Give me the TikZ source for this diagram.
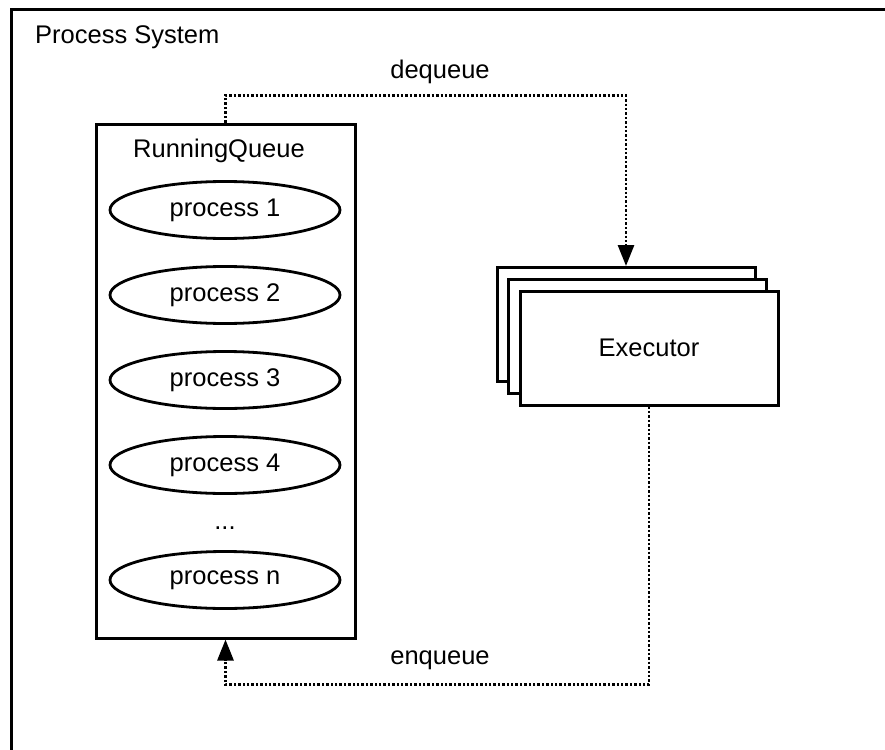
\documentclass[tikz,border=0pt]{standalone}
\usepackage{fontspec}
\setmainfont{Liberation Sans}
\usepackage{tikz}
\usetikzlibrary{shapes.geometric,arrows.meta,positioning}
\tikzset{
  sysframe/.style={draw=black, line width=3pt},
  qbox/.style={rectangle, draw=black, line width=3pt, fill=white, minimum width=259pt, minimum height=514pt, inner sep=0pt},
  pnode/.style={ellipse, draw=black, line width=2.8pt, fill=white, minimum width=230pt, minimum height=57pt, inner sep=0pt},
  ebox/.style={rectangle, draw=black, line width=3pt, fill=white, minimum width=258pt, minimum height=114pt, inner sep=0pt},
  qarrow/.style={-{Triangle[length=21pt,width=16pt]}, line width=2.8pt, dash pattern=on 2.5pt off 1.9pt},
  plain/.style={inner sep=0pt}
}

\begin{document}
\begin{tikzpicture}[x=1pt, y=-1pt, font=\fontsize{25.5}{30}\selectfont, node distance=25.2pt]
\useasboundingbox (0,0) rectangle (885,749);
\begin{scope}
\clip (0,0) rectangle (885,749);
\draw[sysframe] (11,10) rectangle (900,760);
\end{scope}
\node[plain, anchor=west] (systitle) at (35,37) {Process System};
% running queue
\node[qbox] (rq) at (225.5,381) {};
\node[plain] (rqtitle) at (219,151) {RunningQueue};
\node[pnode] (p1) at (225,210) {process 1};
\node[pnode, below=of p1] (p2) {process 2};
\node[pnode, below=of p2] (p3) {process 3};
\node[pnode, below=of p3] (p4) {process 4};
\node[plain, anchor=base] (pdots) at (225,529) {...};
\node[pnode] (pn) at (225,580) {process n};
% executors
\node[ebox] (exec3) at (626,324.5) {};
\node[ebox] (exec2) at (637.5,336.5) {};
\node[ebox] (exec) at (649,348) {Executor};
% queue flow
\draw[qarrow] (rq.north) -- ++(0,-27) -| (exec3.north);
\draw[qarrow] (exec.south) -- ++(0,278) -| (rq.south);
\node[plain] (deq) at (440,72) {dequeue};
\node[plain] (enq) at (440,660) {enqueue};
\end{tikzpicture}
\end{document}
